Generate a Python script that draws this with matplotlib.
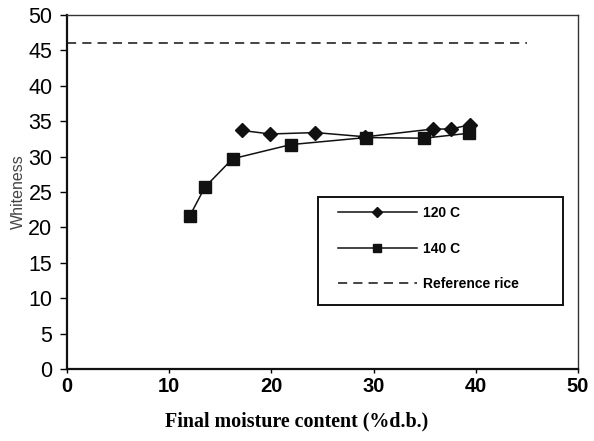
import matplotlib
matplotlib.use("Agg")
import matplotlib.pyplot as plt
from matplotlib.patches import Rectangle

# Whiteness of parboiled rice versus final moisture content
moisture_120 = [17.1, 19.9, 24.3, 29.2, 35.8, 37.6, 39.4]
white_120 = [33.7, 33.2, 33.4, 32.8, 33.9, 33.9, 34.5]

moisture_140 = [12.0, 13.5, 16.2, 21.9, 29.3, 34.9, 39.3]
white_140 = [21.6, 25.7, 29.7, 31.7, 32.7, 32.6, 33.3]

reference_x = [0, 45]
reference_white = [46, 46]

x_ticks = [0, 10, 20, 30, 40, 50]
y_ticks = [0, 5, 10, 15, 20, 25, 30, 35, 40, 45, 50]

fig = plt.figure(figsize=(5.94, 4.41), dpi=100)
ax = fig.add_axes([0.1128, 0.163, 0.8602, 0.803])

ax.plot(moisture_120, white_120, color="#111111", lw=1.1, marker="D",
        ms=6.8, label="120 C")
ax.plot(moisture_140, white_140, color="#111111", lw=1.1, marker="s",
        ms=8.5, label="140 C")
ax.plot(reference_x, reference_white, color="#111111", lw=1.1,
        ls=(0, (6, 4)), label="Reference rice")

ax.set_xlim(0, 50)
ax.set_ylim(0, 50)
ax.set_xticks(x_ticks)
ax.set_yticks(y_ticks)

for side in ("left", "bottom"):
    ax.spines[side].set_linewidth(1.6)
    ax.spines[side].set_color("#111111")
for side in ("top", "right"):
    ax.spines[side].set_linewidth(1.0)
    ax.spines[side].set_color("#333333")

ax.tick_params(axis="y", direction="out", length=5, width=1.0, pad=5.5,
               labelsize=15.5)
ax.tick_params(axis="x", direction="out", length=3, width=1.0, pad=3,
               labelsize=14.5)
for lbl in ax.get_yticklabels():
    lbl.set_fontfamily("Liberation Sans")
for lbl in ax.get_xticklabels():
    lbl.set_fontfamily("Liberation Sans")
    lbl.set_fontweight("bold")

fig.text(0.5, 0.045, "Final moisture content (%d.b.)",
         family="Liberation Serif", fontweight="bold", fontsize=14.4,
         ha="center", va="center")
ax.set_ylabel("Whiteness", family="Liberation Sans", fontsize=11.5,
              color="#444444", labelpad=2)

# legend box drawn as its own frame, entries placed inside it
ax.add_patch(Rectangle((0.491, 0.18), 0.48, 0.306, transform=ax.transAxes,
                       facecolor="white", edgecolor="#111111", lw=1.4,
                       zorder=4))
leg = ax.legend(loc="upper left", bbox_to_anchor=(0.530, 0.460),
                borderaxespad=0, borderpad=0, frameon=False,
                handlelength=5.7, handletextpad=0.45, labelspacing=1.55,
                prop={"family": "Liberation Sans", "weight": "bold",
                      "size": 10},
                markerscale=0.7)
leg.set_zorder(5)

fig.savefig("out.png", dpi=100, facecolor="white")
